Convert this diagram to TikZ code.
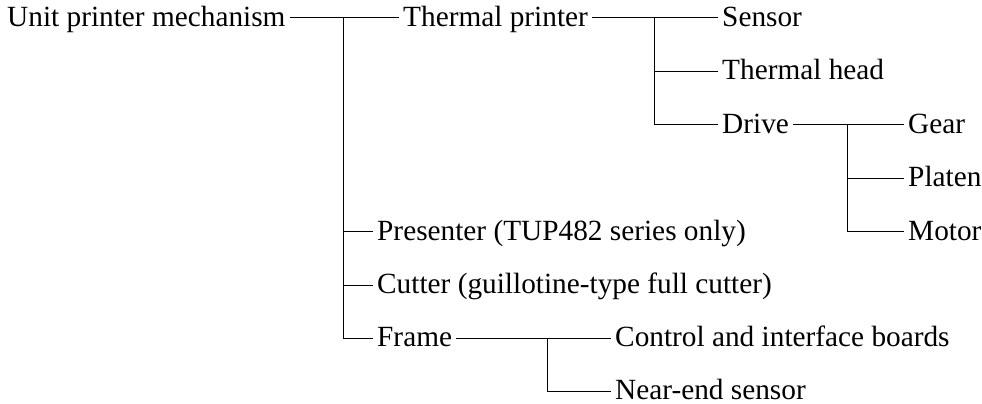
\documentclass[tikz,border=0pt]{standalone}
\usepackage{fontspec}
\setmainfont{Liberation Serif}
\usepackage{tikz}
\usetikzlibrary{positioning}

\begin{document}
\begin{tikzpicture}[x=1pt,y=-1pt,
  item/.style={anchor=west,inner xsep=4pt,inner ysep=0pt,text height=17.6pt,text depth=0pt,font=\fontsize{29.3}{35}\selectfont},
  link/.style={line width=0.9pt}]
\useasboundingbox (0,0) rectangle (982,404);
\node[item] (root) at (3,17.5) {Unit printer mechanism};
\node[item] (tp) at (399,17.5) {Thermal printer};
\node[item] (sens) at (718,17.5) {Sensor};
\node[item] (head) at (718,71) {Thermal head};
\node[item] (drv) at (718,124.5) {Drive};
\node[item] (gear) at (904,124.5) {Gear};
\node[item] (plat) at (904,178) {Platen};
\node[item] (mot) at (904,231.5) {Motor};
\node[item] (pres) at (373,231.5) {Presenter (TUP482 series only)};
\node[item] (cut) at (373,285) {Cutter (guillotine-type full cutter)};
\node[item] (frm) at (373,338) {Frame};
\node[item] (ctrl) at (611,338) {Control and interface boards};
\node[item] (near) at (611,391) {Near-end sensor};
\coordinate (j1) at (343,17.5);
\coordinate (j2) at (654,17.5);
\coordinate (j3) at (847,124.5);
\coordinate (j4) at (547,338);
\draw[link] (root) -- (tp);
\draw[link] (j1) |- (pres.west);
\draw[link] (j1) |- (cut.west);
\draw[link] (j1) |- (frm.west);
\draw[link] (tp) -- (sens);
\draw[link] (j2) |- (head.west);
\draw[link] (j2) |- (drv.west);
\draw[link] (drv) -- (gear);
\draw[link] (j3) |- (plat.west);
\draw[link] (j3) |- (mot.west);
\draw[link] (frm) -- (ctrl);
\draw[link] (j4) |- (near.west);
\end{tikzpicture}
\end{document}
